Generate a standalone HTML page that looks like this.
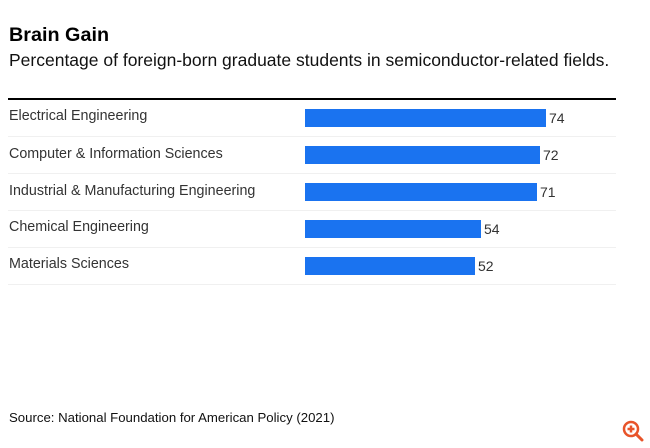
<!DOCTYPE html>
<html><head><style>
body{margin:0;width:650px;height:448px;background:#fff;font-family:"Liberation Sans",sans-serif;position:relative;overflow:hidden}
.a{position:absolute;white-space:nowrap}
.lab{position:absolute;left:9px;font-size:14.3px;color:#333}
.bar{position:absolute;left:305px;height:18px;background:#1a73f0}
.val{position:absolute;font-size:14px;color:#333}
.sep{position:absolute;left:8px;width:608px;height:1px;background:#f0f0f0}
</style></head><body>
<div class="a" style="left:9px;top:24px;font-size:19.8px;font-weight:bold;color:#000">Brain Gain</div>
<div class="a" style="left:9px;top:50px;font-size:17.5px;color:#111">Percentage of foreign-born graduate students in semiconductor-related fields.</div>
<div class="a" style="left:8px;top:98px;width:608px;height:2px;background:#000"></div>

<div class="lab" style="top:108px">Electrical Engineering</div>
<div class="bar" style="top:109px;width:241px"></div><div class="val" style="left:549px;top:110px">74</div>
<div class="sep" style="top:136px"></div>
<div class="lab" style="top:146px">Computer &amp; Information Sciences</div>
<div class="bar" style="top:146px;width:235px"></div><div class="val" style="left:543px;top:147px">72</div>
<div class="sep" style="top:173px"></div>
<div class="lab" style="top:183px">Industrial &amp; Manufacturing Engineering</div>
<div class="bar" style="top:183px;width:232px"></div><div class="val" style="left:540px;top:184px">71</div>
<div class="sep" style="top:210px"></div>
<div class="lab" style="top:219px">Chemical Engineering</div>
<div class="bar" style="top:220px;width:176px"></div><div class="val" style="left:484px;top:221px">54</div>
<div class="sep" style="top:247px"></div>
<div class="lab" style="top:256px">Materials Sciences</div>
<div class="bar" style="top:257px;width:170px"></div><div class="val" style="left:478px;top:258px">52</div>
<div class="sep" style="top:284px"></div>

<div class="a" style="left:9px;top:410px;font-size:13.2px;color:#111">Source: National Foundation for American Policy (2021)</div>
<svg class="a" style="left:620px;top:418px" width="26" height="26" viewBox="0 0 26 26">
<circle cx="11" cy="11" r="7" fill="none" stroke="#e8542a" stroke-width="2.5"/>
<line x1="16" y1="16" x2="22" y2="22" stroke="#e8542a" stroke-width="3" stroke-linecap="round"/>
<line x1="7.5" y1="11" x2="14.5" y2="11" stroke="#e8542a" stroke-width="2.5"/>
<line x1="11" y1="7.5" x2="11" y2="14.5" stroke="#e8542a" stroke-width="2.5"/>
</svg>
</body></html>
